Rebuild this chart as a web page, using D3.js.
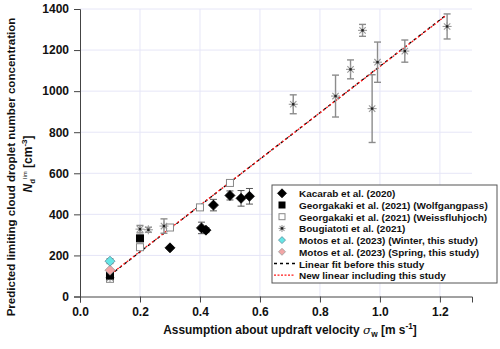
<!DOCTYPE html>
<html><head><meta charset="utf-8">
<script src="https://cdn.jsdelivr.net/npm/d3@7"></script>
<style>
body{margin:0;background:#fff;}
svg text{font-family:"Liberation Sans",Arial,sans-serif;font-weight:bold;fill:#111;}
</style></head>
<body><svg id="c" width="500" height="349"></svg>
<script>
// ---- data ----
const xTicks = [0.0, 0.2, 0.4, 0.6, 0.8, 1.0, 1.2];
const yTicks = [0, 200, 400, 600, 800, 1000, 1200, 1400];

const kacarabX = [0.30, 0.405, 0.42, 0.445, 0.50, 0.537, 0.565];
const kacarabY = [237, 334, 323, 445, 492, 478, 488];
const kacarabErr = [0, 28, 12, 28, 22, 38, 38];

const wolfX = [0.1, 0.2];
const wolfY = [102, 283];

const weissX = [0.1, 0.2, 0.3, 0.4, 0.5];
const weissY = [86, 240, 336, 434, 553];

const bougX = [0.1, 0.2, 0.228, 0.28, 0.711, 0.852, 0.902, 0.942, 0.974, 0.992, 1.083, 1.224];
const bougY = [92, 328, 325, 343, 936, 976, 1106, 1296, 915, 1141, 1195, 1315];
const bougErr = [0, 18, 12, 35, 46, 102, 46, 29, 165, 98, 54, 61];

const winterX = [0.1], winterY = [172], winterErr = [12];
const springX = [0.1], springY = [128], springErr = [0];

const fitOldX = [0.1, 1.222], fitOldY = [104, 1372];
const fitNewX = [0.1, 1.222], fitNewY = [106, 1370];

const legendLabels = [
  "Kacarab et al. (2020)",
  "Georgakaki et al. (2021) (Wolfgangpass)",
  "Georgakaki et al. (2021) (Weissfluhjoch)",
  "Bougiatoti et al. (2021)",
  "Motos et al. (2023) (Winter, this study)",
  "Motos et al. (2023) (Spring, this study)",
  "Linear fit before this study",
  "New linear including this study"
];

// ---- drawing ----
const svg = d3.select("#c");
const x = d3.scaleLinear().domain([0, 1.307]).range([80, 472]);
const y = d3.scaleLinear().domain([0, 1400]).range([296.5, 9]);

function fitFont(sel, target, base) {
  sel.attr("font-size", base);
  const w = sel.node().getComputedTextLength();
  const fs = base * target / w;
  sel.attr("font-size", fs);
  return fs;
}

// grid
const grid = svg.append("g");
grid.selectAll("line.h").data(yTicks.slice(1)).enter().append("line")
  .attr("x1", x(0)).attr("x2", x(1.307)).attr("y1", d => y(d)).attr("y2", d => y(d))
  .attr("stroke", "#e6e6f7").attr("stroke-width", 1);
grid.selectAll("line.v").data(xTicks.slice(1)).enter().append("line")
  .attr("y1", y(0)).attr("y2", y(1400)).attr("x1", d => x(d)).attr("x2", d => x(d))
  .attr("stroke", "#e6e6f7").attr("stroke-width", 1);

// axes
const xAxis = svg.append("g").attr("transform", `translate(0,${y(0)})`)
  .call(d3.axisBottom(x).tickValues(xTicks).tickFormat(d3.format(".1f")).tickSizeOuter(0).tickSize(6).tickPadding(5));
const yAxis = svg.append("g").attr("transform", `translate(${x(0)},0)`)
  .call(d3.axisLeft(y).tickValues(yTicks).tickFormat(d3.format("d")).tickSizeOuter(0).tickSize(6).tickPadding(5));
[xAxis, yAxis].forEach(a => {
  a.select(".domain").attr("stroke", "#444");
  a.selectAll(".tick line").attr("stroke", "#444");
  a.selectAll(".tick text").attr("font-size", 12).attr("font-weight", "bold")
    .attr("font-family", "Liberation Sans, Arial, sans-serif").attr("fill", "#111");
});

// fit lines
const line = d3.line().x(d => x(d[0])).y(d => y(d[1]));
svg.append("path").datum(d3.zip(fitOldX, fitOldY)).attr("d", line)
  .attr("stroke", "#000").attr("stroke-width", 1.3).attr("fill", "none").attr("stroke-dasharray", "3,3");
svg.append("path").datum(d3.zip(fitNewX, fitNewY)).attr("d", line)
  .attr("stroke", "#ff1a1a").attr("stroke-width", 1.3).attr("fill", "none").attr("stroke-dasharray", "2,2")
  .attr("stroke-dashoffset", 3);

// error bars
function errBars(xs, ys, es, color, w) {
  const g = svg.append("g").attr("stroke", color).attr("stroke-width", w).attr("fill", "none");
  xs.forEach((xv, i) => {
    if (!es[i]) return;
    const cx = x(xv), t = y(ys[i] + es[i]), b = y(ys[i] - es[i]);
    g.append("line").attr("x1", cx).attr("x2", cx).attr("y1", t).attr("y2", b);
    g.append("line").attr("x1", cx - 3.5).attr("x2", cx + 3.5).attr("y1", t).attr("y2", t);
    g.append("line").attr("x1", cx - 3.5).attr("x2", cx + 3.5).attr("y1", b).attr("y2", b);
  });
}
errBars(bougX, bougY, bougErr, "#8c8c8c", 1.4);
errBars(kacarabX, kacarabY, kacarabErr, "#555", 1);
errBars(winterX, winterY, winterErr, "#777", 1);

// marker shapes
function diamond(g, cx, cy, r, fill, stroke) {
  g.append("path").attr("d", `M${cx},${cy - r}L${cx + r},${cy}L${cx},${cy + r}L${cx - r},${cy}Z`)
    .attr("fill", fill).attr("stroke", stroke).attr("stroke-width", 0.8);
}
function square(g, cx, cy, s, fill, stroke) {
  g.append("rect").attr("x", cx - s / 2).attr("y", cy - s / 2).attr("width", s).attr("height", s)
    .attr("fill", fill).attr("stroke", stroke).attr("stroke-width", 1);
}
function star(g, cx, cy, r) {
  const s = g.append("g").attr("stroke", "#9a9a9a").attr("stroke-width", 1.1);
  for (let k = 0; k < 4; k++) {
    const a = k * Math.PI / 4;
    s.append("line").attr("x1", cx - r * Math.cos(a)).attr("x2", cx + r * Math.cos(a))
      .attr("y1", cy - r * Math.sin(a)).attr("y2", cy + r * Math.sin(a));
  }
  g.append("rect").attr("x", cx - 1.2).attr("y", cy - 1.2).attr("width", 2.4).attr("height", 2.4).attr("fill", "#222");
}

const pts = svg.append("g");
weissX.forEach((v, i) => square(pts, x(v), y(weissY[i]), 7, "#fff", "#888"));
bougX.forEach((v, i) => star(pts, x(v), y(bougY[i]), 4.5));
wolfX.forEach((v, i) => square(pts, x(v), y(wolfY[i]), 7, "#000", "#000"));
kacarabX.forEach((v, i) => diamond(pts, x(v), y(kacarabY[i]), 5, "#000", "#000"));
springX.forEach((v, i) => diamond(pts, x(v), y(springY[i]), 5, "#f2a6a6", "#999"));
winterX.forEach((v, i) => diamond(pts, x(v), y(winterY[i]), 5, "#66e6e6", "#5a8a9a"));

// legend
const lg = svg.append("g");
const lx = 272, ly = 185, lw = 225, rowH = 11.7;
lg.append("rect").attr("x", lx).attr("y", ly).attr("width", lw).attr("height", 98)
  .attr("fill", "#fff").attr("stroke", "#555").attr("stroke-width", 1);
const texts = [];
legendLabels.forEach((t, i) => {
  const cy = ly + 8.3 + i * rowH;
  const sx = 282;
  if (i === 0) diamond(lg, sx, cy, 4.5, "#000", "#000");
  if (i === 1) square(lg, sx, cy, 6, "#000", "#000");
  if (i === 2) square(lg, sx, cy, 6, "#fff", "#888");
  if (i === 3) star(lg, sx, cy, 3.5);
  if (i === 4) diamond(lg, sx, cy, 3.5, "#66e6e6", "#5a8a9a");
  if (i === 5) diamond(lg, sx, cy, 3.5, "#f2a6a6", "#999");
  if (i === 6) lg.append("line").attr("x1", 274).attr("x2", 295).attr("y1", cy).attr("y2", cy)
    .attr("stroke", "#000").attr("stroke-width", 1.3).attr("stroke-dasharray", "3,3");
  if (i === 7) lg.append("line").attr("x1", 274).attr("x2", 295).attr("y1", cy).attr("y2", cy)
    .attr("stroke", "#ff1a1a").attr("stroke-width", 1.2).attr("stroke-dasharray", "2,1.5");
  texts.push(lg.append("text").attr("x", 299).attr("y", cy + 4).text(t));
});
const lfs = fitFont(texts[1], 189, 11);
texts.forEach(t => t.attr("font-size", lfs));

// axis titles
const xt = svg.append("text").attr("x", 290).attr("y", 334).attr("text-anchor", "middle").attr("font-size", 11.5);
xt.append("tspan").text("Assumption about updraft velocity ");
xt.append("tspan").attr("font-family", "DejaVu Serif, serif").attr("font-style", "italic").attr("font-weight", "normal").text("σ");
xt.append("tspan").attr("font-size", 8).attr("dy", 3).text("w");
xt.append("tspan").attr("dy", -3).text(" [m s");
xt.append("tspan").attr("font-size", 8).attr("dy", -5).text("-1");
xt.append("tspan").attr("dy", 5).text("]");
{
  const w = xt.node().getComputedTextLength();
  const f = 254 / w;
  xt.attr("font-size", 11.5 * f);
  xt.selectAll("tspan").each(function () {
    const s = d3.select(this); const fsz = s.attr("font-size");
    if (fsz) s.attr("font-size", +fsz * f);
  });
}

const yt1 = svg.append("text").attr("transform", "translate(15,167) rotate(-90)").attr("text-anchor", "middle")
  .text("Predicted limiting cloud droplet number concentration");
fitFont(yt1, 299, 12);
const yt2 = svg.append("text").attr("transform", "translate(32,164) rotate(-90)").attr("text-anchor", "middle").attr("font-size", 12);
yt2.append("tspan").attr("font-style", "italic").text("N");
yt2.append("tspan").attr("font-size", 8).attr("dy", 3).text("d");
yt2.append("tspan").attr("font-size", 6).attr("dy", -8).attr("font-weight", "normal").text("lim");
yt2.append("tspan").attr("dy", 5).text(" [cm");
yt2.append("tspan").attr("font-size", 8).attr("dy", -5).text("-3");
yt2.append("tspan").attr("dy", 5).text("]");
</script></body></html>
